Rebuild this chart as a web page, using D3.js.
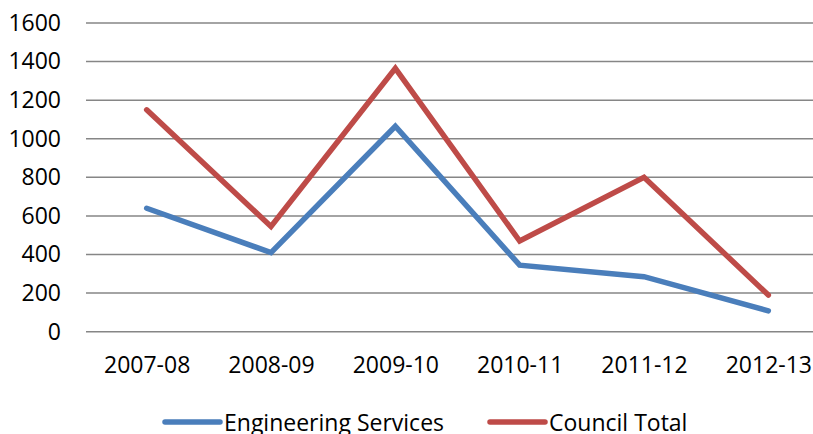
<!DOCTYPE html>
<html>
<head>
<meta charset="utf-8">
<script src="https://cdn.jsdelivr.net/npm/d3@7"></script>
<style>
  body { margin: 0; background: #fff; }
  svg { display: block; }
  text { font-family: "Open Sans", "Noto Sans", sans-serif; fill: #000; }
</style>
</head>
<body>
<div class="chart"></div>
<script>
const years = ["2007-08", "2008-09", "2009-10", "2010-11", "2011-12", "2012-13"]
const engineering = [640, 410, 1065, 345, 285, 108]
const council = [1150, 545, 1365, 470, 800, 190]
const yTicks = [0, 200, 400, 600, 800, 1000, 1200, 1400, 1600]

const series = [
  {name: "Engineering Services", values: engineering, color: "#4a7ebb"},
  {name: "Council Total", values: council, color: "#be4b48"}
]

const width = 813, height = 434

const svg = d3.select(".chart").append("svg")
    .attr("width", width)
    .attr("height", height)

const x = d3.scalePoint()
    .domain(years)
    .range([84.5, 830.5])
    .padding(0.5)

const y = d3.scaleLinear()
    .domain([0, 1600])
    .range([331.7, 23])

// gridlines
svg.append("g")
    .selectAll("line")
    .data(yTicks)
  .enter().append("line")
    .attr("x1", 86)
    .attr("x2", width)
    .attr("y1", d => y(d))
    .attr("y2", d => y(d))
    .attr("stroke", "#868686")
    .attr("stroke-width", 1.5)

// y labels
const yAxis = d3.axisLeft(y).tickValues(yTicks).tickFormat(d3.format("d")).tickSize(0).tickPadding(0)
svg.append("g")
    .attr("transform", "translate(61,0)")
    .call(yAxis)
    .call(g => g.select(".domain").remove())
    .selectAll("text")
    .attr("font-size", "23px")
    .attr("font-family", "'Open Sans', sans-serif")
    .attr("fill", "#000")

// x labels
const xAxis = d3.axisBottom(x).tickSize(0).tickPadding(0)
svg.append("g")
    .attr("transform", "translate(0,357)")
    .call(xAxis)
    .call(g => g.select(".domain").remove())
    .selectAll("text")
    .attr("font-size", "23px")
    .attr("font-family", "'Open Sans', sans-serif")
    .attr("fill", "#000")

const line = d3.line()
    .x((d, i) => x(years[i]))
    .y(d => y(d))

svg.selectAll(".series")
    .data(series)
  .enter().append("path")
    .attr("class", "series")
    .attr("d", d => line(d.values))
    .attr("fill", "none")
    .attr("stroke", d => d.color)
    .attr("stroke-width", 5.5)
    .attr("stroke-linejoin", "miter")
    .attr("stroke-linecap", "round")

// legend
const legendX = [165, 490]
const legend = svg.selectAll(".legend")
    .data(series)
  .enter().append("g")
    .attr("class", "legend")
    .attr("transform", (d, i) => "translate(" + legendX[i] + ",422)")

legend.append("line")
    .attr("x1", 0)
    .attr("x2", 55)
    .attr("stroke", d => d.color)
    .attr("stroke-width", 5.5)
    .attr("stroke-linecap", "round")

legend.append("text")
    .attr("x", 59)
    .attr("y", 8.5)
    .attr("font-size", "23px")
    .text(d => d.name)
</script>
</body>
</html>
